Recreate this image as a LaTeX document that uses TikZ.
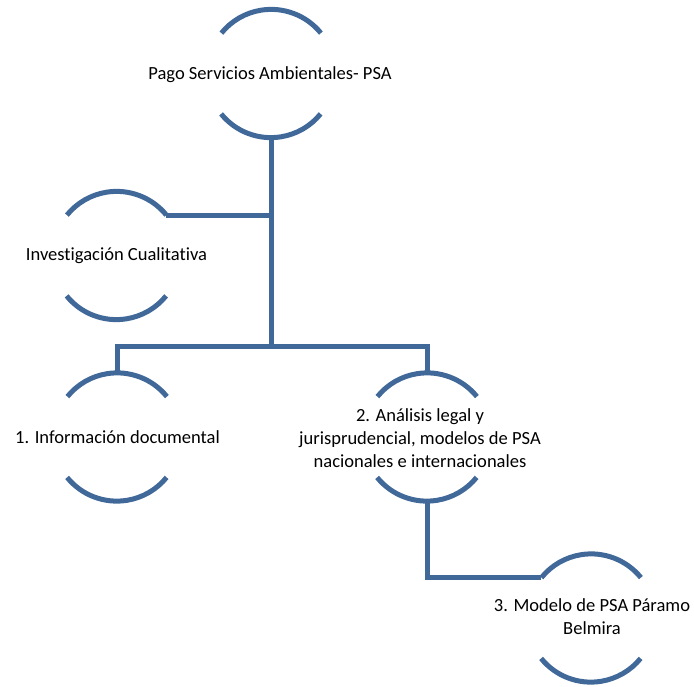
\documentclass[tikz,border=0pt]{standalone}
\usepackage{fontspec}
\setmainfont{Carlito}[Ligatures={NoCommon,TeX}]
\definecolor{arcblue}{RGB}{64,104,153}
\begin{document}
\begin{tikzpicture}[x=1bp,y=-1bp,
  shp/.style={circle,minimum size=128bp,inner sep=0pt,draw=none},
  ln/.style={draw=arcblue,line width=5bp},
  lbl/.style={font=\fontsize{18.6}{23}\selectfont,align=center,inner sep=0pt,text=black}]
\useasboundingbox (0,0) rectangle (694,687);
\newcommand{\arcpair}[1]{%
  \draw[ln] (#1.39) arc[start angle=39,end angle=141,radius=64bp];
  \draw[ln] (#1.219) arc[start angle=219,end angle=321,radius=64bp];}
\node[shp] (a) at (271,73.5) {};
\node[shp] (b) at (116.5,255.5) {};
\node[shp] (c) at (117,437) {};
\node[shp] (d) at (427,437) {};
\node[shp] (e) at (591,618) {};
\arcpair{a}\arcpair{b}\arcpair{c}\arcpair{d}\arcpair{e}
\coordinate (j) at (271,346);
\draw[ln] (a.south) -- (j);
\draw[ln] (b.39) -- (b.39 -| a.south);
\draw[ln] (c.north) |- (j);
\draw[ln] (j) -| (d.north);
\draw[ln] (d.south) |- (e.141);
\node[lbl] (ta) at (270,75) {Pago Servicios Ambientales- PSA};
\node[lbl] (tb) at (116.5,256) {Investigación Cualitativa};
\node[lbl] (tc) at (117.5,437) {1. Información documental};
\node[lbl] (td) at (420,438) {2. Análisis legal y\\jurisprudencial, modelos de PSA\\nacionales e internacionales};
\node[lbl] (te) at (592,617) {3. Modelo de PSA Páramo\\Belmira};
\end{tikzpicture}
\end{document}
